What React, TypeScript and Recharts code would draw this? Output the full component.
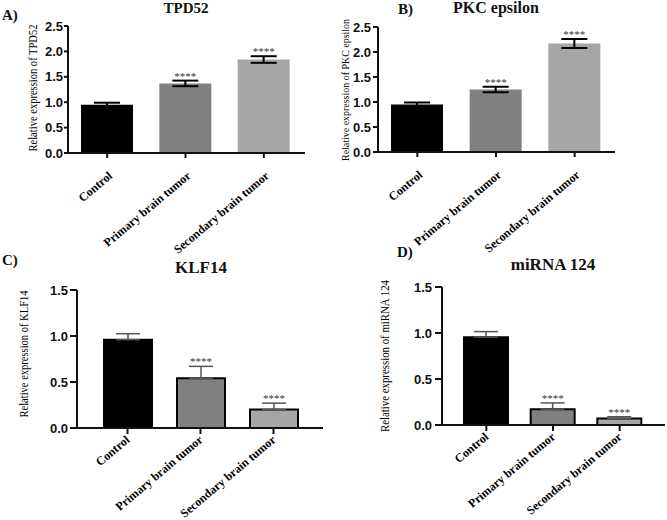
import React from 'react';
import { BarChart, Bar, XAxis, YAxis, Cell, ErrorBar, LabelList } from 'recharts';

const groups = ['Control', 'Primary brain tumor', 'Secondary brain tumor'];
const barColors = ['#000000', '#808080', '#a6a6a6'];
const stars = ['', '****', '****'];

const tpd52Values = [0.95, 1.37, 1.84];
const tpd52Errors = [0.04, 0.055, 0.065];
const pkcValues = [0.95, 1.25, 2.17];
const pkcErrors = [0.04, 0.055, 0.09];
const klf14Values = [0.96, 0.54, 0.2];
const klf14Errors = [0.065, 0.13, 0.07];
const mir124Values = [0.955, 0.17, 0.07];
const mir124Errors = [0.06, 0.07, 0.02];

const ticksTop = [0, 0.5, 1, 1.5, 2, 2.5];
const ticksBottom = [0, 0.5, 1, 1.5];

const SERIF = '"Liberation Serif", "Times New Roman", serif';
const SANS = '"Liberation Sans", Arial, sans-serif';

const GroupTick = ({ x, y, payload, dx, dy }: any) => {
  const ax = Number(x) + dx;
  const ay = Number(y) + dy;
  return (
    <text
      x={ax}
      y={ay}
      transform={`rotate(-40, ${ax}, ${ay})`}
      textAnchor="end"
      fontFamily={SERIF}
      fontWeight="bold"
      fontSize={12}
      fill="#000"
    >
      {payload.value}
    </text>
  );
};

const Panel = ({
  values, errors, upperOnly, yTicks, box, margin, yAxisWidth, xAxisHeight,
  padding, barSize, outlined, yTickSize, yTickMargin, xTickSize, tickDx, tickDy,
  capWidth, errColor, errStroke,
}: any) => {
  const data = groups.map((name, i) => ({
    name,
    value: values[i],
    err: upperOnly ? [0, errors[i]] : errors[i],
  }));

  const renderStars = (props: any) => {
    const { x, y, width, height, value, index } = props;
    if (!stars[index]) return null;
    const capY = Number(y) - (Number(height) * errors[index]) / Number(value);
    return (
      <text
        x={Number(x) + Number(width) / 2}
        y={capY - 1}
        textAnchor="middle"
        fontSize={11}
        fontFamily={SERIF}
        fill="#333"
      >
        {stars[index]}
      </text>
    );
  };

  return (
    <div style={{ position: 'absolute', left: box.left, top: box.top }}>
      <BarChart width={box.width} height={box.height} data={data} margin={margin}>
        <XAxis
          dataKey="name"
          interval={0}
          height={xAxisHeight}
          padding={padding}
          axisLine={{ stroke: '#111', strokeWidth: 2 }}
          tickLine={{ stroke: '#111', strokeWidth: 2 }}
          tickSize={xTickSize}
          tickMargin={2}
          tick={(p: any) => <GroupTick {...p} dx={tickDx} dy={tickDy} />}
        />
        <YAxis
          width={yAxisWidth}
          domain={[0, yTicks[yTicks.length - 1]]}
          ticks={yTicks}
          interval={0}
          tickFormatter={(v: number) => v.toFixed(1)}
          axisLine={{ stroke: '#111', strokeWidth: 2 }}
          tickLine={{ stroke: '#111', strokeWidth: 2 }}
          tickSize={yTickSize}
          tickMargin={yTickMargin}
          tick={{ fill: '#111', fontSize: 13, fontWeight: 'bold', fontFamily: SANS }}
        />
        <Bar
          dataKey="value"
          barSize={barSize}
          stroke={outlined ? '#000' : 'none'}
          strokeWidth={outlined ? 2 : 0}
          isAnimationActive={false}
        >
          {data.map((d, i) => (
            <Cell key={d.name} fill={barColors[i]} />
          ))}
          <ErrorBar
            dataKey="err"
            width={capWidth}
            stroke={errColor}
            strokeWidth={errStroke}
            isAnimationActive={false}
          />
          <LabelList dataKey="value" content={renderStars} />
        </Bar>
      </BarChart>
    </div>
  );
};

const YTitle = ({ x, y, text, length, size }: any) => (
  <text
    x={x}
    y={y}
    transform={`rotate(-90, ${x}, ${y})`}
    textAnchor="middle"
    dominantBaseline="central"
    fontFamily={SERIF}
    fontSize={size}
    textLength={length}
    lengthAdjust="spacingAndGlyphs"
    fill="#000"
  >
    {text}
  </text>
);

const App = () => {
  return (
    <div style={{ position: 'absolute', left: 0, top: 0, width: 667, height: 520, background: '#fff' }}>
      <Panel
        values={tpd52Values}
        errors={tpd52Errors}
        upperOnly={false}
        yTicks={ticksTop}
        box={{ left: 0, top: 0, width: 330, height: 270 }}
        margin={{ top: 26, right: 25, bottom: 27, left: 0 }}
        yAxisWidth={68}
        xAxisHeight={90}
        padding={{ left: 0, right: 2 }}
        barSize={52}
        outlined={false}
        yTickSize={4}
        yTickMargin={1}
        xTickSize={5}
        tickDx={6}
        tickDy={17}
        capWidth={13}
        errColor="#000"
        errStroke={2}
      />
      <Panel
        values={pkcValues}
        errors={pkcErrors}
        upperOnly={false}
        yTicks={ticksTop}
        box={{ left: 330, top: 0, width: 337, height: 270 }}
        margin={{ top: 27, right: 52, bottom: 28, left: 0 }}
        yAxisWidth={48}
        xAxisHeight={90}
        padding={{ left: 0, right: 1 }}
        barSize={52}
        outlined={false}
        yTickSize={5}
        yTickMargin={2}
        xTickSize={5}
        tickDx={6}
        tickDy={17}
        capWidth={13}
        errColor="#000"
        errStroke={2}
      />
      <Panel
        values={klf14Values}
        errors={klf14Errors}
        upperOnly={true}
        yTicks={ticksBottom}
        box={{ left: 0, top: 250, width: 330, height: 270 }}
        margin={{ top: 40, right: 7, bottom: 7, left: 0 }}
        yAxisWidth={77}
        xAxisHeight={85}
        padding={{ left: 14, right: 13 }}
        barSize={48}
        outlined={true}
        yTickSize={7}
        yTickMargin={2}
        xTickSize={6}
        tickDx={3}
        tickDy={5}
        capWidth={12}
        errColor="#555"
        errStroke={1.5}
      />
      <Panel
        values={mir124Values}
        errors={mir124Errors}
        upperOnly={true}
        yTicks={ticksBottom}
        box={{ left: 330, top: 250, width: 337, height: 270 }}
        margin={{ top: 37, right: 2, bottom: 10, left: 0 }}
        yAxisWidth={112}
        xAxisHeight={85}
        padding={{ left: 11, right: 12 }}
        barSize={44}
        outlined={true}
        yTickSize={7}
        yTickMargin={3}
        xTickSize={6}
        tickDx={3}
        tickDy={5}
        capWidth={12}
        errColor="#555"
        errStroke={1.5}
      />
      <svg
        width={667}
        height={520}
        style={{ position: 'absolute', left: 0, top: 0, pointerEvents: 'none' }}
      >
        <g fontFamily={SERIF} fontWeight="bold" fill="#111">
          <text x={2} y={20} fontSize={15}>A)</text>
          <text x={186} y={13} fontSize={15} textAnchor="middle">TPD52</text>
          <text x={398} y={14} fontSize={15}>B)</text>
          <text x={496} y={13} fontSize={16} textAnchor="middle">PKC epsilon</text>
          <text x={2} y={265} fontSize={15}>C)</text>
          <text x={201} y={273} fontSize={17} textAnchor="middle">KLF14</text>
          <text x={397} y={257} fontSize={15}>D)</text>
          <text x={553} y={270} fontSize={17} textAnchor="middle">miRNA 124</text>
        </g>
        <YTitle x={33} y={88} text="Relative expression of TPD52" length={127} size={11.5} />
        <YTitle x={345} y={90} text="Relative expression of PKC epsilon" length={142} size={10.3} />
        <YTitle x={24} y={354} text="Relative expression of KLF14" length={127} size={11.5} />
        <YTitle x={385} y={356} text="Relative expression of miRNA 124" length={152} size={11.5} />
      </svg>
    </div>
  );
};

export default App;
